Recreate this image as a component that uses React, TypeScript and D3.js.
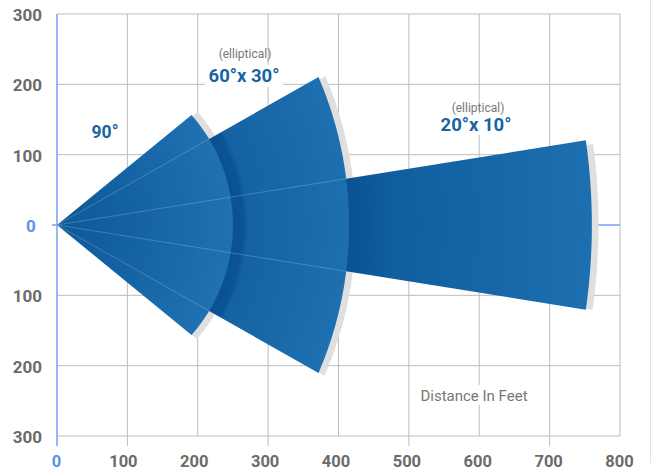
import React from "react";
import * as d3 from "d3";

// ---- data ----
const beamLabels = ["90°", "60°x 30°", "20°x 10°"];
const beamSubLabels = ["", "(elliptical)", "(elliptical)"];
const beamRange = [250, 415, 760]; // feet along the axis
const beamEdgeRange = [247, 427, 761]; // feet at the beam edge
const beamHalfAngle = [39.3, 29.5, 9.1]; // drawn half spread (deg)
const xTicks = [0, 100, 200, 300, 400, 500, 600, 700, 800];
const xTickLabels = ["0", "100", "200", "300", "400", "500", "600", "700", "800"];
const yTicks = [300, 200, 100, 0, -100, -200, -300];
const yTickLabels = ["300", "200", "100", "0", "100", "200", "300"];
const axisTitle = "Distance In Feet";

const W = 652;
const H = 471;
const FONT = "Roboto, 'Liberation Sans', Arial, sans-serif";
const GRID = "#bdbdbd";
const AXIS_BLUE = "#74a0f5";
const LABEL_BLUE = "#1a63a3";
const GRAY_TEXT = "#6b6b6b";

export default function App() {
  const x = d3.scaleLinear().domain([0, 800]).range([57, 620]);
  const y = d3.scaleLinear().domain([-300, 300]).range([436, 14]);
  const xLab = d3.scaleLinear().domain([0, 800]).range([52.5, 619.5]);

  const rAt = (i: number, phi: number) => {
    const t = phi / beamHalfAngle[i];
    return beamRange[i] + (beamEdgeRange[i] - beamRange[i]) * t * t;
  };
  const polar = (r: number, phi: number): [number, number] => {
    const a = (phi * Math.PI) / 180;
    return [r * Math.cos(a), r * Math.sin(a)];
  };
  const line = d3
    .line<[number, number]>()
    .x((d) => x(d[0]))
    .y((d) => y(d[1]));

  const angles = (i: number, trimTop = 0, trimBottom = 0) => {
    const h = beamHalfAngle[i];
    const n = 60;
    const lo = -h + trimBottom;
    const hi = h - trimTop;
    return d3.range(n + 1).map((k) => lo + ((hi - lo) * k) / n);
  };

  const beamPath = (i: number) => {
    const pts: [number, number][] = [[0, 0]];
    angles(i).forEach((phi) => pts.push(polar(rAt(i, phi), phi)));
    return line(pts) + "Z";
  };
  const shadowPath = (i: number) => {
    const angs = angles(i, 0.5, 0.1);
    const outer = angs.map((phi) => polar(rAt(i, phi) + 9.5, phi));
    const inner = angs
      .slice()
      .reverse()
      .map((phi) => polar(rAt(i, phi) - 3, phi));
    return line([...outer, ...inner] as [number, number][]) + "Z";
  };

  const px0 = x(0);
  const py0 = y(0);
  const pxR = (ft: number) => x(ft) - x(0);

  // facet lines: edges of narrower beams seen through the nearer ones
  const facets: { phi: number; r: number }[] = [];
  for (let i = 1; i < beamLabels.length; i++) {
    for (const s of [1, -1]) {
      const phi = s * beamHalfAngle[i];
      facets.push({ phi, r: rAt(i - 1, Math.min(Math.abs(phi), beamHalfAngle[i - 1]) * s) });
    }
  }

  const gradStops: { off: number; c: string }[][] = [
    [
      { off: 0, c: "#0d5999" },
      { off: 0.5, c: "#1563a5" },
      { off: 1, c: "#1f71b1" },
    ],
    [
      { off: pxR(beamRange[0]) / pxR(beamEdgeRange[1]) - 0.01, c: "#0a5090" },
      { off: (pxR(beamRange[0]) + 10) / pxR(beamEdgeRange[1]), c: "#0b5494" },
      { off: (pxR(beamRange[0]) + 15) / pxR(beamEdgeRange[1]), c: "#1462a3" },
      { off: 1, c: "#1e70b0" },
    ],
    [
      { off: pxR(beamRange[1]) / pxR(beamEdgeRange[2]) - 0.01, c: "#0a5090" },
      { off: (pxR(beamRange[1]) + 10) / pxR(beamEdgeRange[2]), c: "#0b5494" },
      { off: (pxR(beamRange[1]) + 45) / pxR(beamEdgeRange[2]), c: "#105e9f" },
      { off: 1, c: "#1d6fb0" },
    ],
  ];

  const order = [2, 1, 0];

  return (
    <svg
      width={W}
      height={H}
      style={{ position: "fixed", left: 0, top: 0, background: "#fff" }}
      fontFamily={FONT}
    >
      <defs>
        {gradStops.map((stops, i) => (
          <radialGradient
            key={i}
            id={`beamGrad${i}`}
            gradientUnits="userSpaceOnUse"
            cx={px0}
            cy={py0}
            r={pxR(beamEdgeRange[i])}
          >
            {stops.map((s, k) => (
              <stop key={k} offset={Math.max(0, Math.min(1, s.off))} stopColor={s.c} />
            ))}
          </radialGradient>
        ))}
      </defs>
      <rect width={W} height={H} fill="#fff" />
      <line x1={650.5} x2={650.5} y1={0} y2={463} stroke="#e2e2e2" strokeWidth={1} />

      {/* horizontal grid */}
      {yTicks
        .filter((v) => v !== 0)
        .map((v) => (
          <line key={v} x1={x(0)} x2={x(800)} y1={y(v)} y2={y(v)} stroke={GRID} strokeWidth={1} />
        ))}
      {/* vertical grid */}
      {xTicks
        .filter((v) => v !== 0)
        .map((v, k) => (
          <line
            key={v}
            x1={x(v)}
            x2={x(v)}
            y1={y(300)}
            y2={v !== 800 && k % 2 === 0 ? y(-300) + 10 : y(-300)}
            stroke={GRID}
            strokeWidth={1}
          />
        ))}
      {/* blue axes */}
      <line x1={x(0) - 5} x2={x(800)} y1={y(0)} y2={y(0)} stroke={AXIS_BLUE} strokeWidth={1.3} />
      <line x1={x(0)} x2={x(0)} y1={y(300)} y2={y(-300) + 10} stroke={AXIS_BLUE} strokeWidth={1.5} />

      {/* shadows */}
      {order.map((i) => (
        <path key={`s${i}`} d={shadowPath(i)} fill="#dfdfdf" />
      ))}
      {/* beams */}
      {order.map((i) => (
        <path key={`b${i}`} d={beamPath(i)} fill={`url(#beamGrad${i})`} />
      ))}
      {/* facet lines */}
      {facets.map((f, k) => {
        const p = polar(f.r, f.phi);
        return (
          <line
            key={k}
            x1={x(0)}
            y1={y(0)}
            x2={x(p[0])}
            y2={y(p[1])}
            stroke="rgba(255,255,255,0.2)"
            strokeWidth={1}
          />
        );
      })}

      {/* tick labels */}
      {yTicks.map((v, k) =>
        v === 0 ? (
          <text key={v} x={31} y={y(v) + 7} textAnchor="middle" fontSize={17} fontWeight={700} fill="#5c8ff2">
            {yTickLabels[k]}
          </text>
        ) : (
          <text key={v} x={42} y={y(v) + 7} textAnchor="end" fontSize={17} fontWeight={700} fill={GRAY_TEXT}>
            {yTickLabels[k]}
          </text>
        )
      )}
      {xTicks.map((v, k) => (
        <text
          key={v}
          x={v === 0 ? x(0) - 0.5 : xLab(v)}
          y={467}
          textAnchor="middle"
          fontSize={16.5}
          fontWeight={700}
          fill={v === 0 ? "#5c8ff2" : GRAY_TEXT}
        >
          {xTickLabels[k]}
        </text>
      ))}

      {/* beam labels */}
      <text x={105} y={138} textAnchor="middle" fontSize={17.5} fontWeight={700} fill={LABEL_BLUE}>
        {beamLabels[0]}
      </text>
      <rect x={205} y={65} width={78} height={22} fill="#fff" />
      <text x={245} y={58} textAnchor="middle" fontSize={12} fill="#777">
        {beamSubLabels[1]}
      </text>
      <text x={244} y={82} textAnchor="middle" fontSize={18.5} fontWeight={700} fill={LABEL_BLUE}>
        {beamLabels[1]}
      </text>
      <rect x={438} y={114} width={77} height={21} fill="#fff" />
      <text x={478} y={112} textAnchor="middle" fontSize={12} fill="#777">
        {beamSubLabels[2]}
      </text>
      <text x={476} y={131} textAnchor="middle" fontSize={18.5} fontWeight={700} fill={LABEL_BLUE}>
        {beamLabels[2]}
      </text>

      {/* axis title */}
      <rect x={418} y={385} width={113} height={20} fill="#fff" />
      <text x={474} y={400.5} textAnchor="middle" fontSize={15} fill="#777">
        {axisTitle}
      </text>
    </svg>
  );
}
